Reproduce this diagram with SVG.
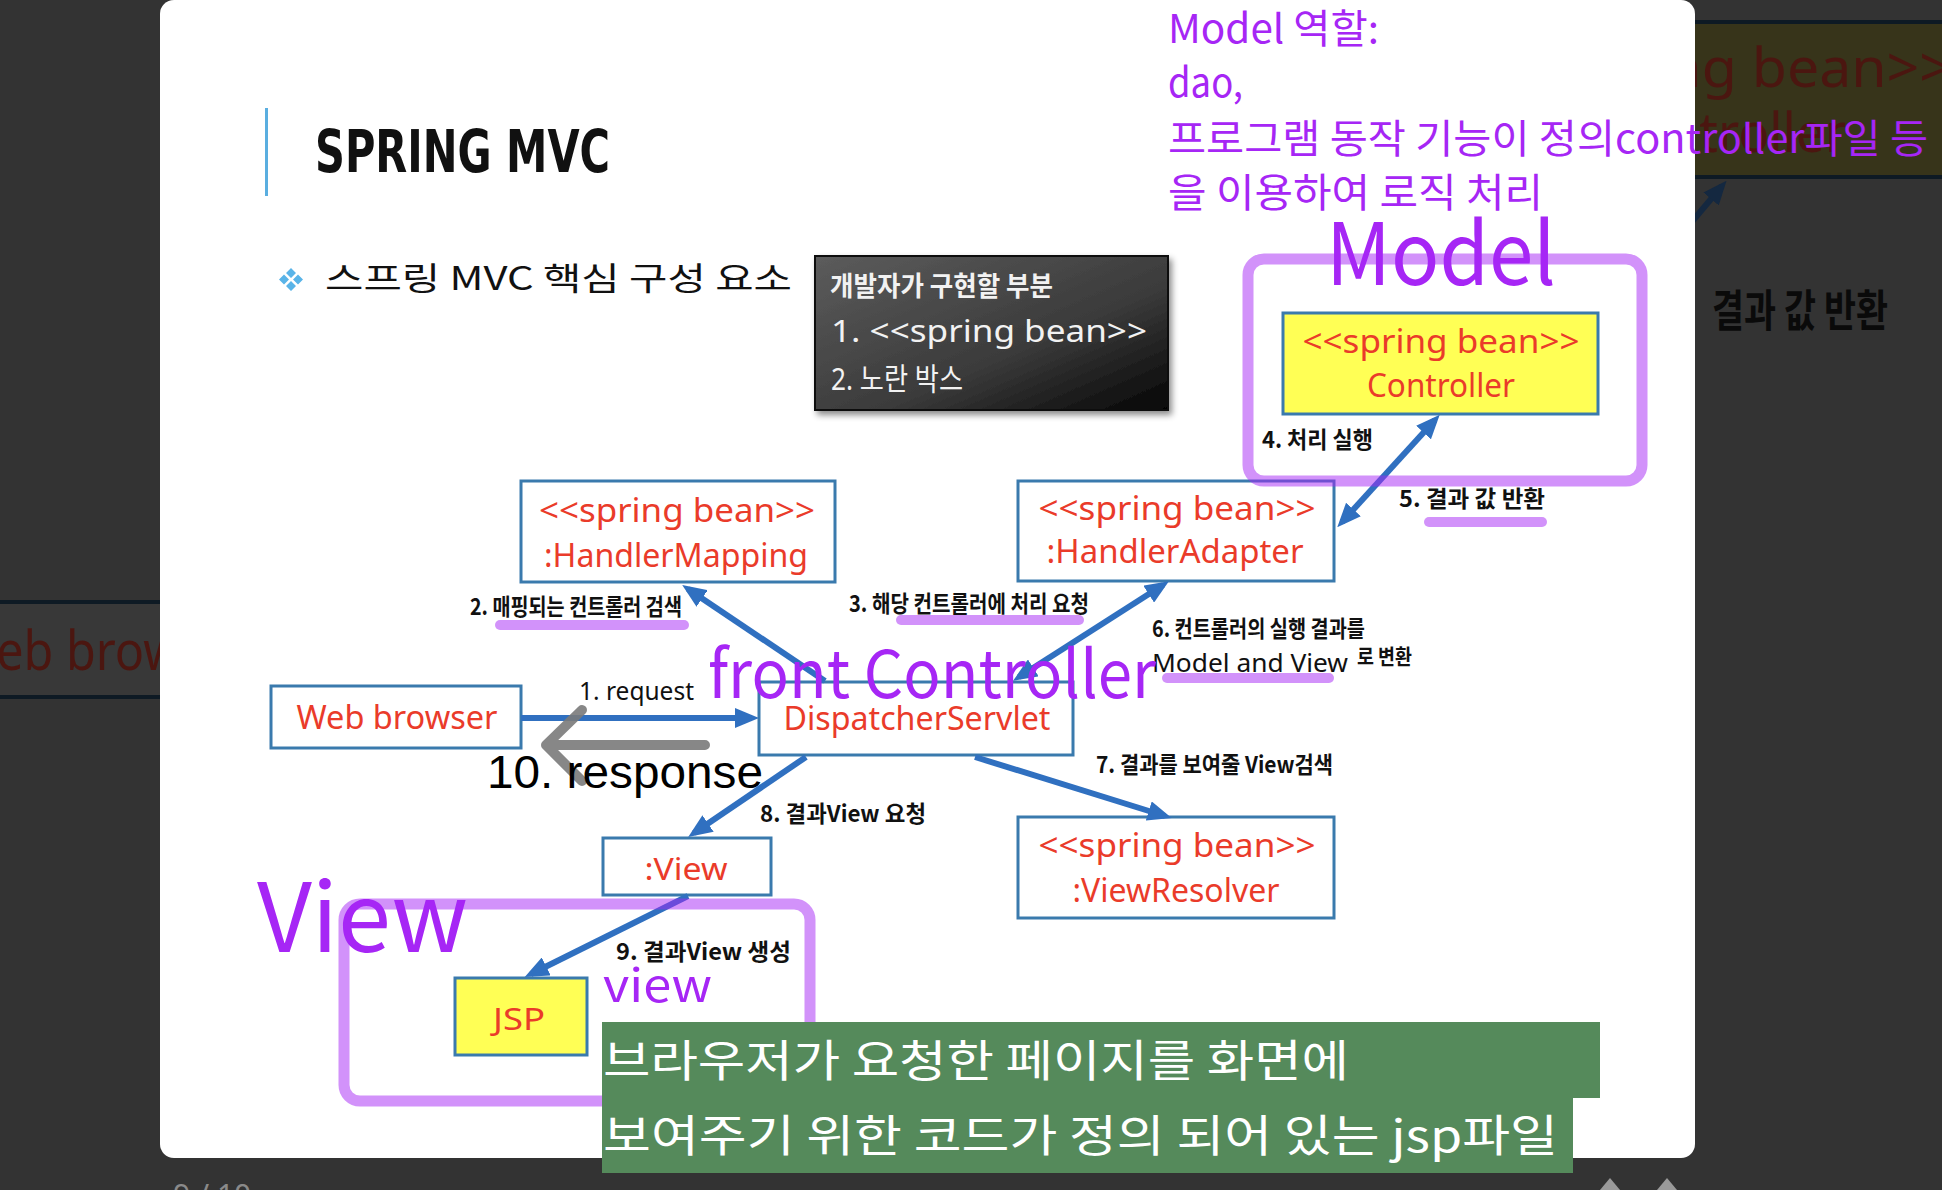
<svg xmlns="http://www.w3.org/2000/svg" width="1942" height="1190" viewBox="0 0 1942 1190">
<style>
.bg{fill:#333333}
.node{fill:#ffffff;stroke:#3a7aad;stroke-width:3}
.ynode{fill:#ffff55;stroke:#3a7aad;stroke-width:3}
.nt{font-family:"Noto Sans","Open Sans",sans-serif;fill:#ea3b2a;text-anchor:middle}
.kl{font-family:"Noto Sans CJK KR","Noto Sans",sans-serif;font-weight:700;fill:#111111}
.ll{font-family:"Noto Sans","Noto Sans CJK KR",sans-serif;fill:#111111}
.pu{font-family:"Noto Sans CJK KR","Noto Sans",sans-serif;fill:#a626f5}
.conn{stroke:#3070c0;stroke-width:6;fill:none}
.hl{stroke:#a626f5;stroke-opacity:0.5;stroke-width:10;stroke-linecap:round;fill:none}
.grp{fill:none;stroke:#a626f5;stroke-opacity:0.5;stroke-width:11}
.gt{font-family:"Noto Sans CJK KR","Noto Sans",sans-serif;fill:#ffffff}
.dim{font-family:"Noto Sans","Open Sans",sans-serif;fill:#4b1610}
</style>
<defs>
<marker id="ah" markerWidth="24" markerHeight="20" refX="17" refY="10" orient="auto-start-reverse" markerUnits="userSpaceOnUse">
<path d="M0,0 L24,10 L0,20 z" fill="#3070c0"/>
</marker>
<marker id="ahd" markerWidth="24" markerHeight="20" refX="17" refY="10" orient="auto" markerUnits="userSpaceOnUse">
<path d="M0,0 L24,10 L0,20 z" fill="#142840"/>
</marker>
<linearGradient id="dk" x1="0" y1="0" x2="1" y2="1">
<stop offset="0" stop-color="#5c5c5c"/>
<stop offset="0.6" stop-color="#3a3a3a"/>
<stop offset="1" stop-color="#050505"/>
</linearGradient>
<filter id="sh" x="-5%" y="-5%" width="115%" height="120%">
<feDropShadow dx="3" dy="4" stdDeviation="3" flood-color="#000" flood-opacity="0.45"/>
</filter>
</defs>

<!-- dark surroundings -->
<rect class="bg" x="0" y="0" width="1942" height="1190"/>
<g id="dim-left">
<rect x="0" y="602" width="170" height="95" fill="#383838"/>
<rect x="0" y="600" width="170" height="4" fill="#0e1a24"/>
<rect x="0" y="695" width="170" height="4" fill="#0e1a24"/>
<text class="dim" x="-48" y="670" font-size="54" textLength="300" lengthAdjust="spacingAndGlyphs">Web browser</text>
</g>
<g id="dim-right">
<rect x="1680" y="24" width="262" height="152" fill="#37341a"/>
<rect x="1680" y="20" width="262" height="4" fill="#0e1a24"/>
<rect x="1680" y="175" width="262" height="4" fill="#0e1a24"/>
<text class="dim" x="1500" y="87" font-size="54" textLength="452" lengthAdjust="spacingAndGlyphs">&lt;&lt;spring bean&gt;&gt;</text>
<text class="dim" x="1604" y="152" font-size="54" textLength="242" lengthAdjust="spacingAndGlyphs">Controller</text>
<line x1="1690" y1="224" x2="1722" y2="186" stroke="#142840" stroke-width="6" marker-end="url(#ahd)"/>
<text x="1712" y="327" font-family="Noto Sans CJK KR, sans-serif" font-weight="700" font-size="44" fill="#0a0a0a" textLength="176" lengthAdjust="spacingAndGlyphs">결과 값 반환</text>
</g>
<g id="pager">
<text x="173" y="1206" font-family="Noto Sans, sans-serif" font-size="30" fill="#8a8a8a">9 / 10</text>
<polygon points="1600,1190 1610,1178 1620,1190" fill="#9a9a9a"/>
<polygon points="1657,1190 1667,1178 1677,1190" fill="#9a9a9a"/>
</g>

<!-- slide -->
<rect id="slide" x="160" y="0" width="1535" height="1158" rx="14" fill="#ffffff"/>

<g id="title">
<rect x="265" y="108" width="3" height="88" fill="#5aaee0"/>
<text x="315" y="172" font-family="DejaVu Sans Condensed, DejaVu Sans, sans-serif" font-weight="700" font-size="58" fill="#111111" textLength="295" lengthAdjust="spacingAndGlyphs">SPRING MVC</text>
</g>
<g id="subtitle">
<path d="M291,268 l5,5 l-5,5 l-5,-5 z M291,281 l5,5 l-5,5 l-5,-5 z M284,274.5 l5,5 l-5,5 l-5,-5 z M298,274.5 l5,5 l-5,5 l-5,-5 z" fill="#5ab4e8"/>
<text x="325" y="290" font-family="Noto Sans CJK KR, sans-serif" font-size="32" fill="#111111" textLength="467" lengthAdjust="spacingAndGlyphs">스프링 MVC 핵심 구성 요소</text>
</g>
<g id="dev-note">
<rect x="815" y="256" width="353" height="154" fill="url(#dk)" stroke="#111111" stroke-width="2" filter="url(#sh)"/>
<text x="830" y="296" font-family="Noto Sans CJK KR, sans-serif" font-weight="700" font-size="27" fill="#f2f2f2" textLength="223" lengthAdjust="spacingAndGlyphs">개발자가 구현할 부분</text>
<text x="831" y="342" font-family="Noto Sans, sans-serif" font-size="31" fill="#f2f2f2" textLength="316" lengthAdjust="spacingAndGlyphs">1. &lt;&lt;spring bean&gt;&gt;</text>
<text x="831" y="390" font-family="Noto Sans, Noto Sans CJK KR, sans-serif" font-size="31" fill="#f2f2f2" textLength="132" lengthAdjust="spacingAndGlyphs">2. 노란 박스</text>
</g>

<!-- nodes -->
<g id="controller">
<rect class="ynode" x="1283" y="313" width="315" height="101"/>
<text class="nt" x="1441" y="353" font-size="32" textLength="277" lengthAdjust="spacingAndGlyphs">&lt;&lt;spring bean&gt;&gt;</text>
<text class="nt" x="1441" y="397" font-size="32" textLength="148" lengthAdjust="spacingAndGlyphs">Controller</text>
</g>
<g id="handler-mapping">
<rect class="node" x="521" y="481" width="314" height="101"/>
<text class="nt" x="677" y="522" font-size="32" textLength="276" lengthAdjust="spacingAndGlyphs">&lt;&lt;spring bean&gt;&gt;</text>
<text class="nt" x="676" y="567" font-size="32" textLength="264" lengthAdjust="spacingAndGlyphs">:HandlerMapping</text>
</g>
<g id="handler-adapter">
<rect class="node" x="1018" y="481" width="316" height="100"/>
<text class="nt" x="1177" y="520" font-size="32" textLength="277" lengthAdjust="spacingAndGlyphs">&lt;&lt;spring bean&gt;&gt;</text>
<text class="nt" x="1175" y="563" font-size="32" textLength="257" lengthAdjust="spacingAndGlyphs">:HandlerAdapter</text>
</g>
<g id="web-browser">
<rect class="node" x="271" y="686" width="250" height="62"/>
<text class="nt" x="397" y="729" font-size="32" textLength="201" lengthAdjust="spacingAndGlyphs">Web browser</text>
</g>
<g id="dispatcher-servlet">
<rect class="node" x="759" y="682" width="314" height="73"/>
<text class="nt" x="917" y="730" font-size="32" textLength="267" lengthAdjust="spacingAndGlyphs">DispatcherServlet</text>
</g>
<g id="view">
<rect class="node" x="603" y="838" width="168" height="57"/>
<text class="nt" x="686" y="880" font-size="30" textLength="83" lengthAdjust="spacingAndGlyphs">:View</text>
</g>
<g id="view-resolver">
<rect class="node" x="1018" y="817" width="316" height="101"/>
<text class="nt" x="1177" y="857" font-size="32" textLength="277" lengthAdjust="spacingAndGlyphs">&lt;&lt;spring bean&gt;&gt;</text>
<text class="nt" x="1176" y="902" font-size="32" textLength="207" lengthAdjust="spacingAndGlyphs">:ViewResolver</text>
</g>
<g id="jsp">
<rect class="ynode" x="455" y="978" width="132" height="77"/>
<text class="nt" x="519" y="1030" font-size="30" textLength="52" lengthAdjust="spacingAndGlyphs">JSP</text>
</g>

<!-- connectors -->
<g id="connectors">
<line class="conn" x1="521" y1="718" x2="752" y2="718" marker-end="url(#ah)"/>
<line class="conn" x1="825" y1="681" x2="688" y2="589" marker-end="url(#ah)"/>
<line class="conn" x1="1019" y1="677" x2="1163" y2="585" marker-start="url(#ah)" marker-end="url(#ah)"/>
<line class="conn" x1="1342" y1="522" x2="1435" y2="420" marker-start="url(#ah)" marker-end="url(#ah)"/>
<line class="conn" x1="975" y1="757" x2="1165" y2="816" marker-end="url(#ah)"/>
<line class="conn" x1="806" y1="757" x2="694" y2="833" marker-end="url(#ah)"/>
<line class="conn" x1="688" y1="896" x2="531" y2="974" marker-end="url(#ah)"/>
</g>

<!-- connector labels -->
<g id="labels">
<text class="ll" x="579" y="700" font-size="25" textLength="115" lengthAdjust="spacingAndGlyphs">1. request</text>
<text class="kl" x="470" y="615" font-size="23" textLength="212" lengthAdjust="spacingAndGlyphs">2. 매핑되는 컨트롤러 검색</text>
<text class="kl" x="849" y="612" font-size="23" textLength="240" lengthAdjust="spacingAndGlyphs">3. 해당 컨트롤러에 처리 요청</text>
<text class="kl" x="1262" y="448" font-size="23" textLength="111" lengthAdjust="spacingAndGlyphs">4. 처리 실행</text>
<text class="kl" x="1399" y="507" font-size="23" textLength="146" lengthAdjust="spacingAndGlyphs">5. 결과 값 반환</text>
<text class="kl" x="1152" y="637" font-size="23" textLength="213" lengthAdjust="spacingAndGlyphs">6. 컨트롤러의 실행 결과를</text>
<text class="ll" x="1152" y="672" font-size="26" textLength="196" lengthAdjust="spacingAndGlyphs">Model and View</text>
<text class="kl" x="1357" y="664" font-size="21" textLength="55" lengthAdjust="spacingAndGlyphs">로 변환</text>
<text class="kl" x="1096" y="773" font-size="23" textLength="237" lengthAdjust="spacingAndGlyphs">7. 결과를 보여줄 View검색</text>
<text class="kl" x="760" y="822" font-size="23" textLength="166" lengthAdjust="spacingAndGlyphs">8. 결과View 요청</text>
<text class="kl" x="616" y="960" font-size="23" textLength="175" lengthAdjust="spacingAndGlyphs">9. 결과View 생성</text>
</g>

<!-- annotations -->
<g id="annotations">
<rect class="grp" x="1248" y="259" width="394" height="222" rx="16"/>
<rect class="grp" x="344" y="904" width="466" height="197" rx="16"/>
<line class="hl" x1="500" y1="625" x2="684" y2="625"/>
<line class="hl" x1="901" y1="620" x2="1079" y2="620"/>
<line class="hl" x1="1429" y1="522" x2="1542" y2="522"/>
<line class="hl" x1="1167" y1="678" x2="1329" y2="678"/>
<text class="pu" x="1168" y="43" font-size="40" textLength="211" lengthAdjust="spacingAndGlyphs">Model 역할:</text>
<text class="pu" x="1168" y="97" font-size="40" textLength="75" lengthAdjust="spacingAndGlyphs">dao,</text>
<text class="pu" x="1168" y="153" font-size="40" textLength="760" lengthAdjust="spacingAndGlyphs">프로그램 동작 기능이 정의controller파일 등</text>
<text class="pu" x="1168" y="207" font-size="40" textLength="375" lengthAdjust="spacingAndGlyphs">을 이용하여 로직 처리</text>
<text class="pu" x="1326" y="285" font-size="86" textLength="230" lengthAdjust="spacingAndGlyphs">Model</text>
<text class="pu" x="708" y="698" font-size="66" textLength="448" lengthAdjust="spacingAndGlyphs">front Controller</text>
<text class="pu" x="257" y="952" font-size="95" textLength="211" lengthAdjust="spacingAndGlyphs">View</text>
<text class="pu" x="603" y="1002" font-size="46" textLength="109" lengthAdjust="spacingAndGlyphs">view</text>
<path d="M705,745 L547,745 M582,710 L546,745 L582,781" fill="none" stroke="#7a7a7a" stroke-opacity="0.9" stroke-width="10" stroke-linecap="round" stroke-linejoin="round"/>
<text x="487" y="788" font-family="Liberation Sans, Arial, sans-serif" font-size="46" fill="#000000" textLength="276" lengthAdjust="spacingAndGlyphs">10. response</text>
<rect x="602" y="1022" width="998" height="76" fill="#558a5b"/>
<rect x="602" y="1097" width="971" height="76" fill="#558a5b"/>
<text class="gt" x="603" y="1077" font-size="44" textLength="746" lengthAdjust="spacingAndGlyphs">브라우저가 요청한 페이지를 화면에</text>
<text class="gt" x="603" y="1152" font-size="44" textLength="955" lengthAdjust="spacingAndGlyphs">보여주기 위한 코드가 정의 되어 있는 jsp파일</text>
</g>
</svg>
